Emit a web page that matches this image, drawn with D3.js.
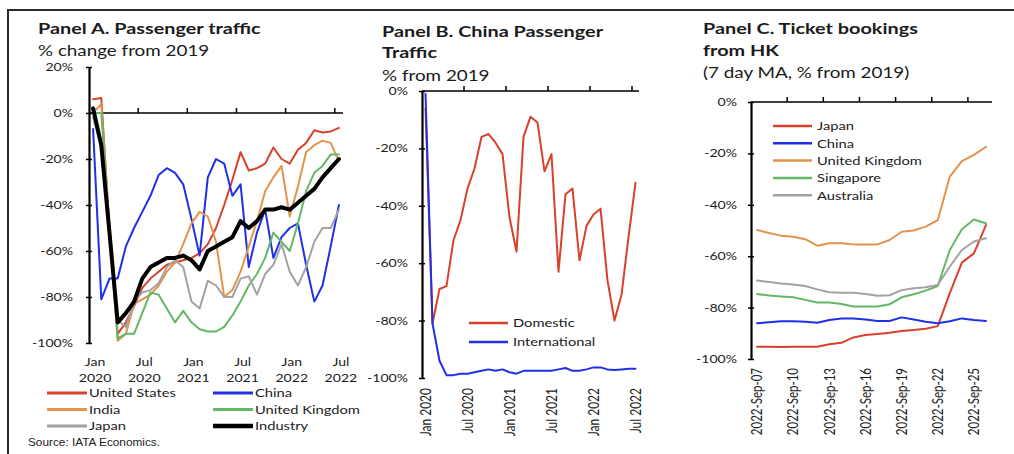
<!DOCTYPE html>
<html>
<head>
<meta charset="utf-8">
<script src="https://cdn.jsdelivr.net/npm/d3@7"></script>
<style>
  body { margin: 0; background: #fff; }
  svg text { font-family: Lato, "Open Sans", sans-serif; fill: #1b1b1b; }
  .title { font-weight: 700; font-size: 15.5px; }
  .sub { font-size: 14.7px; }
  .tick text { font-size: 11px; }
  .legend text { font-size: 11.5px; }
</style>
</head>
<body>
<svg id="chart" width="1014" height="454"></svg>
<script>
// ---------- Panel A: passenger traffic, % change from 2019 ----------
const monthsA = ["Jan 2020","Feb 2020","Mar 2020","Apr 2020","May 2020","Jun 2020","Jul 2020","Aug 2020","Sep 2020","Oct 2020","Nov 2020","Dec 2020",
                 "Jan 2021","Feb 2021","Mar 2021","Apr 2021","May 2021","Jun 2021","Jul 2021","Aug 2021","Sep 2021","Oct 2021","Nov 2021","Dec 2021",
                 "Jan 2022","Feb 2022","Mar 2022","Apr 2022","May 2022","Jun 2022","Jul 2022"];
const tickMonthsA = ["Jan 2020","Jul 2020","Jan 2021","Jul 2021","Jan 2022","Jul 2022"];
const usA       = [6, 6.5, -50, -96, -91, -84, -76, -72, -69, -66, -65, -64, -63, -61, -57, -50, -40, -29, -17, -25, -24, -22, -15, -20, -22, -16, -13, -7.5, -8.5, -8, -6.5];
const chinaA    = [-7, -81, -72, -72, -58, -50, -43, -36, -27, -24, -26, -31, -46, -62, -28, -20, -22, -36, -31, -67, -52, -42, -63, -54, -50, -48, -66, -82, -75, -58, -40];
const indiaA    = [0, 4, -50, -99, -96, -83, -81, -79, -75, -69, -65, -57, -48, -43, -45, -56, -80, -77, -69, -58, -47, -34, -28, -23, -45, -32, -17, -14, -12, -13, -21];
const ukA       = [0, 0, -50, -98, -96, -96, -87, -78, -79, -85, -91, -86, -91, -94, -95, -95, -93, -88, -82, -75, -70, -63, -52, -56, -60, -48, -34, -26, -23, -18, -18];
const japanA    = [-2, -15, -55, -90, -93, -82, -78, -77, -74, -67, -64, -67, -82, -85, -73, -75, -80, -80, -72, -71, -79, -70, -66, -57, -69, -75, -67, -56, -50, -50, -42];
const industryA = [2, -14, -52, -91, -87, -82, -72, -67, -65, -63, -63, -62, -64, -68, -60, -58, -56, -54, -47, -50, -47, -42, -42, -41, -42, -39, -36, -33, -28, -24, -20];
const yTicksA   = [20, 0, -20, -40, -60, -80, -100];

// ---------- Panel B: China passenger traffic ----------
const domesticB      = [-6, -81, -69, -68, -52, -45, -34, -27, -16, -15, -18, -22, -44, -56, -16, -9, -11, -28, -22, -63, -36, -34, -59, -47, -43, -41, -66, -80, -71, -51, -32];
const internationalB = [-1, -81, -94, -99, -99, -98.5, -98.5, -98, -97.5, -97, -97.5, -97, -98, -98.5, -97.5, -97.5, -97.5, -97.5, -97.5, -97, -96.5, -97.5, -97.5, -97, -96.3, -96.3, -97, -97.2, -97, -96.8, -96.8];
const yTicksB = [0, -20, -40, -60, -80, -100];

// ---------- Panel C: ticket bookings from HK (7 day MA) ----------
const daysC = ["2022-Sep-07","2022-Sep-08","2022-Sep-09","2022-Sep-10","2022-Sep-11","2022-Sep-12","2022-Sep-13","2022-Sep-14","2022-Sep-15","2022-Sep-16",
               "2022-Sep-17","2022-Sep-18","2022-Sep-19","2022-Sep-20","2022-Sep-21","2022-Sep-22","2022-Sep-23","2022-Sep-24","2022-Sep-25","2022-Sep-26"];
const tickDaysC = ["2022-Sep-07","2022-Sep-10","2022-Sep-13","2022-Sep-16","2022-Sep-19","2022-Sep-22","2022-Sep-25"];
const japanC     = [-95.2, -95.2, -95.3, -95.2, -95.2, -95.2, -94.3, -93.7, -91.6, -90.7, -90.3, -89.8, -89.1, -88.7, -88.2, -87.2, -74.4, -62.5, -58.9, -47.9];
const chinaC     = [-86.1, -85.7, -85.3, -85.3, -85.5, -85.9, -84.8, -84.2, -84.2, -84.6, -85.2, -85.2, -83.8, -84.6, -85.5, -86.1, -85.3, -84.2, -84.8, -85.2];
const ukC        = [-49.8, -51, -52, -52.4, -53.4, -55.9, -55, -55, -55.4, -55.4, -55.4, -53.7, -50.5, -50, -48.5, -46, -29, -23, -20.6, -17.4];
const singaporeC = [-74.7, -75.3, -75.7, -76, -77, -78, -78, -78.6, -79.6, -79.6, -79.6, -78.7, -76, -74.8, -73.4, -71.6, -57.6, -49.5, -45.7, -47.2];
const australiaC = [-69.5, -70, -70.6, -71, -71.6, -72.9, -74, -74.2, -74.2, -74.7, -75.4, -75.2, -73.2, -72.5, -72.1, -71.2, -64, -57.6, -54.3, -53];
const yTicksC = [0, -20, -40, -60, -80, -100];

const COLORS = { red: "#d8412c", blue: "#1f30e6", orange: "#e3934b", green: "#63b866", gray: "#a2a2a2", black: "#000" };
const TEXT_STRETCH = 1.28;   // glyphs are drawn horizontally widened

const svg = d3.select("#chart");

// outer frame (top and left rule)
svg.append("path").attr("d", "M8,454V10H1014")
  .attr("fill", "none").attr("stroke", "#2a2a2a").attr("stroke-width", 2);

function titleLines(x, lines) {
  lines.forEach(([txt, y, bold]) => {
    svg.append("text").attr("class", bold ? "title" : "sub").attr("x", x).attr("y", y).text(txt);
  });
}

// y axis with short ticks crossing the axis line
function yAxis(y, x, ticks, pad) {
  const g = svg.append("g").attr("transform", `translate(${x},0)`)
    .call(d3.axisLeft(y).tickValues(ticks).tickSize(0).tickPadding(pad).tickFormat(d => d + "%"));
  g.select(".domain").attr("stroke", "#000").attr("stroke-width", 2.2);
  g.selectAll(".tick").append("line").attr("x1", -3).attr("x2", 3).attr("stroke", "#000").attr("stroke-width", 1.5);
  g.selectAll(".tick text").attr("fill", "#1b1b1b");
  return g;
}

// horizontal axis line along the 0% level, with upward ticks at band boundaries
function zeroLine(x, cats, every, yPos) {
  const [r0, r1] = x.range();
  svg.append("line").attr("x1", r0).attr("x2", r1).attr("y1", yPos).attr("y2", yPos)
    .attr("stroke", "#000").attr("stroke-width", 1.6);
  cats.forEach((c, i) => {
    if (i > 0 && i % every === 0) {
      svg.append("line").attr("x1", x(c)).attr("x2", x(c)).attr("y1", yPos).attr("y2", yPos - 5)
        .attr("stroke", "#000").attr("stroke-width", 1.5);
    }
  });
}

function drawSeries(x, y, cats, values, color, width) {
  const line = d3.line().x((d, i) => x(cats[i]) + x.bandwidth() / 2).y(d => y(d));
  svg.append("path").datum(values).attr("d", line)
    .attr("fill", "none").attr("stroke", color).attr("stroke-width", width)
    .attr("stroke-linejoin", "round").attr("stroke-linecap", "round");
}

// ======================= Panel A =======================
titleLines(38, [["Panel A. Passenger traffic", 34, true], ["% change from 2019", 56, false]]);
const xA = d3.scaleBand().domain(monthsA).range([89, 343]).padding(0);
const yA = d3.scaleLinear().domain([-100, 20]).range([343, 67]);
zeroLine(xA, monthsA, 6, yA(0));
yAxis(yA, 89, yTicksA, 16);

const gxA = svg.append("g").attr("transform", "translate(0,352)")
  .call(d3.axisBottom(xA).tickValues(tickMonthsA).tickSize(0).tickPadding(0));
gxA.select(".domain").remove();
gxA.selectAll(".tick text").each(function (d) {
  const t = d3.select(this).text("").attr("y", null).attr("dy", null).attr("x", 2);
  const [m, yr] = d.split(" ");
  t.append("tspan").attr("x", 2).attr("y", 14).text(m);
  t.append("tspan").attr("x", 2).attr("y", 30).text(yr);
});

const seriesA = [
  { name: "United States", v: usA, c: COLORS.red, w: 2 },
  { name: "China", v: chinaA, c: COLORS.blue, w: 2 },
  { name: "India", v: indiaA, c: COLORS.orange, w: 2 },
  { name: "United Kingdom", v: ukA, c: COLORS.green, w: 2 },
  { name: "Japan", v: japanA, c: COLORS.gray, w: 2 },
  { name: "Industry", v: industryA, c: COLORS.black, w: 4 }
];
seriesA.forEach(s => drawSeries(xA, yA, monthsA, s.v, s.c, s.w));

const legA = svg.append("g").attr("class", "legend");
seriesA.forEach((s, i) => {
  const col = i % 2, row = Math.floor(i / 2);
  const lx = col === 0 ? 47 : 213, ly = 393 + row * 16.5;
  legA.append("line").attr("x1", lx).attr("x2", lx + 40).attr("y1", ly).attr("y2", ly)
    .attr("stroke", s.c).attr("stroke-width", s.w === 4 ? 4.5 : 3);
  legA.append("text").attr("x", lx + 42).attr("y", ly + 4.5).text(s.name);
});

// ======================= Panel B =======================
titleLines(382, [["Panel B. China Passenger", 37, true], ["Traffic", 58, true], ["% from 2019", 81, false]]);
const xB = d3.scaleBand().domain(monthsA).range([422, 639]).padding(0);
const yB = d3.scaleLinear().domain([-100, 0]).range([378, 91]);
zeroLine(xB, monthsA, 6, yB(0));
yAxis(yB, 422, yTicksB, 14);

const gxB = svg.append("g").attr("transform", "translate(0,378)")
  .call(d3.axisBottom(xB).tickValues(tickMonthsA).tickSize(0));
gxB.select(".domain").remove();
gxB.selectAll(".tick text")
  .attr("transform", "rotate(-90)").attr("x", -10).attr("y", 0).attr("dy", "0.36em")
  .style("text-anchor", "end").style("font-size", "12px");

drawSeries(xB, yB, monthsA, domesticB, COLORS.red, 2);
drawSeries(xB, yB, monthsA, internationalB, COLORS.blue, 2);

const legB = svg.append("g").attr("class", "legend");
[["Domestic", COLORS.red], ["International", COLORS.blue]].forEach(([n, c], i) => {
  const ly = 323 + i * 19;
  legB.append("line").attr("x1", 469).attr("x2", 508).attr("y1", ly).attr("y2", ly).attr("stroke", c).attr("stroke-width", 2.5);
  legB.append("text").attr("x", 513).attr("y", ly + 4.5).text(n);
});

// ======================= Panel C =======================
titleLines(703, [["Panel C. Ticket bookings", 34, true], ["from HK", 56, true], ["(7 day MA, % from 2019)", 78, false]]);
const xC = d3.scaleBand().domain(daysC).range([751, 992]).padding(0);
const yC = d3.scaleLinear().domain([-100, 0]).range([359, 102]);
zeroLine(xC, daysC, 3, yC(0));
yAxis(yC, 751, yTicksC, 14);

const gxC = svg.append("g").attr("transform", "translate(0,359)")
  .call(d3.axisBottom(xC).tickValues(tickDaysC).tickSize(0));
gxC.select(".domain").remove();
gxC.selectAll(".tick text")
  .attr("transform", "rotate(-90)").attr("x", -9).attr("y", 0).attr("dy", "0.36em")
  .style("text-anchor", "end").style("font-size", "11.5px");

const seriesC = [
  { name: "Japan", v: japanC, c: COLORS.red },
  { name: "China", v: chinaC, c: COLORS.blue },
  { name: "United Kingdom", v: ukC, c: COLORS.orange },
  { name: "Singapore", v: singaporeC, c: COLORS.green },
  { name: "Australia", v: australiaC, c: COLORS.gray }
];
seriesC.forEach(s => drawSeries(xC, yC, daysC, s.v, s.c, 2));

const legC = svg.append("g").attr("class", "legend");
seriesC.forEach((s, i) => {
  const ly = 126 + i * 17.3;
  legC.append("line").attr("x1", 773).attr("x2", 812).attr("y1", ly).attr("y2", ly).attr("stroke", s.c).attr("stroke-width", 2.5);
  legC.append("text").attr("x", 817).attr("y", ly + 4.5).text(s.name);
});

// widen every glyph horizontally about its own anchor point
svg.selectAll("text").each(function () {
  const t = d3.select(this);
  const prev = t.attr("transform") || "";
  const ax = prev.includes("rotate") ? 0 : (+t.attr("x") || 0);
  t.attr("transform", `translate(${ax * (1 - TEXT_STRETCH)},0) scale(${TEXT_STRETCH},1) ${prev}`);
});

// source note (plain, not widened)
svg.append("text").attr("x", 28).attr("y", 446)
  .style("font-family", "'Liberation Sans', Arial, sans-serif").style("font-size", "11.8px")
  .text("Source: IATA Economics.");
</script>
</body>
</html>
